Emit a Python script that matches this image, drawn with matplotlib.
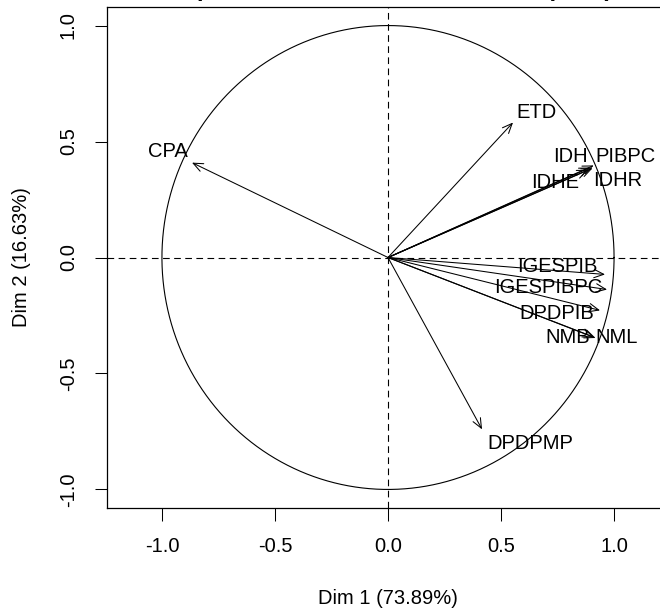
import numpy as np
import matplotlib.pyplot as plt

plt.rcParams['font.family'] = ['Liberation Sans', 'DejaVu Sans']

# variable coordinates on Dim 1 / Dim 2
variables = ['CPA', 'ETD', 'IDH', 'PIBPC', 'IDHR', 'IDHE', 'IGESPIB',
             'IGESPIBPC', 'DPDPIB', 'NMB', 'NML', 'DPDPMP']
dim1 = [-0.867, 0.553, 0.895, 0.910, 0.905, 0.885, 0.960,
        0.969, 0.938, 0.910, 0.918, 0.416]
dim2 = [0.409, 0.582, 0.388, 0.397, 0.385, 0.378, -0.073,
        -0.138, -0.228, -0.343, -0.347, -0.741]

# where the labels were drawn
lab_x = [-0.973, 0.659, 0.805, 1.049, 1.018, 0.739, 0.748,
         0.708, 0.748, 0.796, 1.013, 0.628]
lab_y = [0.457, 0.625, 0.435, 0.435, 0.332, 0.323, -0.039,
         -0.129, -0.241, -0.345, -0.345, -0.802]

ticks = [-1.0, -0.5, 0.0, 0.5, 1.0]
tick_labels = ['-1.0', '-0.5', '0.0', '0.5', '1.0']

fig = plt.figure(figsize=(6.6, 6.09), dpi=100)
ax = fig.add_axes([107 / 660, 101 / 609, 562 / 660, 501 / 609])

# correlation circle
t = np.linspace(0, 2 * np.pi, 400)
ax.plot(np.cos(t), np.sin(t), color='black', lw=0.8)
ax.axhline(0, color='black', lw=0.8, dashes=(6, 4))
ax.axvline(0, color='black', lw=0.8, dashes=(6, 4))

for i, name in enumerate(variables):
    ax.annotate('', xy=(dim1[i], dim2[i]), xytext=(0, 0),
                arrowprops=dict(arrowstyle='->,head_length=0.7,head_width=0.3',
                                color='black', lw=0.75,
                                shrinkA=0, shrinkB=0))
    ax.text(lab_x[i], lab_y[i], name, fontsize=14.5,
            ha='center', va='center')

ax.set_xlim(-1.243, 1.243)
ax.set_ylim(-1.08, 1.08)
ax.set_xticks(ticks)
ax.set_xticklabels(tick_labels)
ax.set_yticks(ticks)
ax.set_yticklabels(tick_labels, rotation=90, va='center')
ax.tick_params(direction='out', length=9, width=0.75, pad=12,
               labelsize=14.5, color='black')
for s in ax.spines.values():
    s.set_linewidth(0.9)

ax.set_xlabel('Dim 1 (73.89%)', fontsize=14.5)
ax.xaxis.set_label_coords(0.5, -0.162)
ax.set_ylabel('Dim 2 (16.63%)', fontsize=14.5)
ax.yaxis.set_label_coords(-0.135, 0.5)

# title sits mostly above the visible area
fig.text(388 / 660, 1.006, 'Mapa de factores de las variables (PCA)',
         ha='center', va='baseline', fontsize=17, fontweight='bold')

plt.savefig('out.png', dpi=100)
